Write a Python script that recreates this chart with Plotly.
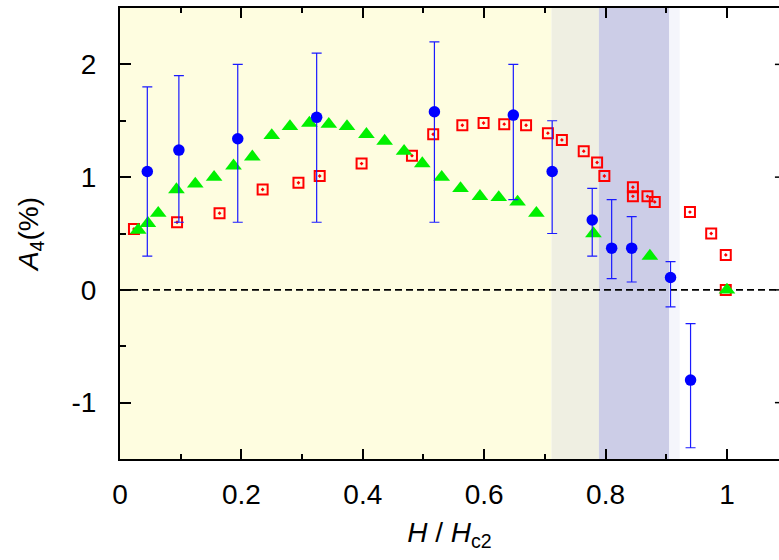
import plotly.graph_objects as go

# ---- data ----
# blue circles with error bars
circ_x = [0.045, 0.097, 0.194, 0.324, 0.518, 0.648, 0.712, 0.778, 0.810, 0.843, 0.907, 0.940]
circ_y = [1.05, 1.24, 1.34, 1.53, 1.58, 1.55, 1.05, 0.62, 0.37, 0.37, 0.11, -0.80]
circ_hi = [1.80, 1.90, 2.00, 2.10, 2.20, 2.00, 1.50, 0.90, 0.80, 0.65, 0.25, -0.30]
circ_lo = [0.30, 0.60, 0.60, 0.60, 0.60, 0.80, 0.50, 0.30, 0.10, 0.07, -0.15, -1.40]

# green triangles
tri_x = [0.030, 0.046, 0.063, 0.093, 0.124, 0.155, 0.187, 0.218, 0.250, 0.280, 0.312,
         0.344, 0.374, 0.406, 0.436, 0.468, 0.498, 0.530, 0.561, 0.593, 0.624, 0.655,
         0.686, 0.780, 0.873, 1.000]
tri_y = [0.53, 0.59, 0.68, 0.89, 0.94, 1.00, 1.10, 1.18, 1.37, 1.45, 1.48,
         1.47, 1.45, 1.38, 1.32, 1.23, 1.12, 1.00, 0.90, 0.83, 0.82, 0.78,
         0.68, 0.50, 0.30, 0.00]

# red open squares
sq_x = [0.023, 0.094, 0.164, 0.235, 0.294, 0.329, 0.398, 0.481, 0.516, 0.564, 0.599,
        0.633, 0.669, 0.705, 0.728, 0.764, 0.786, 0.798, 0.845, 0.845, 0.869, 0.881,
        0.939, 0.974, 0.998, 0.998]
sq_y = [0.54, 0.60, 0.68, 0.89, 0.95, 1.01, 1.12, 1.19, 1.38, 1.46, 1.48,
        1.47, 1.46, 1.39, 1.33, 1.23, 1.13, 1.01, 0.91, 0.83, 0.83, 0.78,
        0.69, 0.50, 0.31, 0.00]

# shaded field regions (x boundaries) and their colours
region_edges = [0.0, 0.711, 0.789, 0.905, 0.922]
region_colors = ["#FEFDE0", "#EFEFE2", "#CCCDE7", "#F5F6FC"]

x_ticks = [0, 0.2, 0.4, 0.6, 0.8, 1]
x_ticklabels = ["0", "0.2", "0.4", "0.6", "0.8", "1"]
y_ticks = [-1, 0, 1, 2]
y_ticklabels = ["-1", "0", "1", "2"]

X_RANGE = [0, 1.0857]
X_FULL = 1.1
Y_RANGE = [-1.5, 2.5]

FONT = "Liberation Sans, Arial, Helvetica, sans-serif"

fig = go.Figure()

# zero dashed line
fig.add_trace(go.Scatter(
    x=[0, X_FULL], y=[0, 0], mode="lines",
    line=dict(color="black", width=1.6, dash="7px,4px"),
    hoverinfo="skip", showlegend=False))

fig.add_trace(go.Scatter(
    x=sq_x, y=sq_y, mode="markers",
    marker=dict(symbol="square-open-dot", size=10, color="#FF0000",
                line=dict(color="#FF0000", width=2)),
    showlegend=False))

fig.add_trace(go.Scatter(
    x=tri_x, y=tri_y, mode="markers",
    marker=dict(symbol="triangle-up", size=14.5, color="#00F000"),
    showlegend=False))

err_plus = [h - v for h, v in zip(circ_hi, circ_y)]
err_minus = [v - l for v, l in zip(circ_y, circ_lo)]
fig.add_trace(go.Scatter(
    x=circ_x, y=circ_y, mode="markers",
    marker=dict(symbol="circle", size=11.5, color="#0000FF"),
    error_y=dict(type="data", symmetric=False, array=err_plus, arrayminus=err_minus,
                 color="#1a1aFF", thickness=1.2, width=5),
    showlegend=False))

shapes = []
for i, col in enumerate(region_colors):
    shapes.append(dict(type="rect", xref="x", yref="paper",
                       x0=region_edges[i], x1=region_edges[i + 1], y0=0, y1=1,
                       fillcolor=col, line=dict(width=0), layer="below"))
# right-hand axis ticks (axis itself lies just outside the picture)
for yt in y_ticks:
    shapes.append(dict(type="line", xref="x", yref="y",
                       x0=X_FULL - 0.021, x1=X_FULL, y0=yt, y1=yt,
                       line=dict(color="black", width=1.5), layer="above"))

fig.update_layout(
    width=779, height=560,
    margin=dict(l=120, r=0, t=8, b=101),
    paper_bgcolor="white", plot_bgcolor="white",
    font=dict(family=FONT, size=28, color="black"),
    shapes=shapes,
    xaxis=dict(
        range=X_RANGE, showgrid=False, zeroline=False,
        showline=True, linecolor="black", linewidth=2, mirror="ticks",
        ticks="inside", ticklen=10, tickwidth=1.5, tickcolor="black",
        tickvals=x_ticks, ticktext=x_ticklabels,
        minor=dict(dtick=0.1, ticks="inside", ticklen=5, tickwidth=1.5, tickcolor="black"),
        ticklabelstandoff=9,
        title=dict(text="<i>H</i> / <i>H</i><sub>c2</sub>", standoff=14,
                   font=dict(size=28)),
    ),
    yaxis=dict(
        range=Y_RANGE, showgrid=False, zeroline=False,
        showline=True, linecolor="black", linewidth=2, mirror=False,
        ticks="inside", ticklen=11, tickwidth=1.5, tickcolor="black",
        tickvals=y_ticks, ticktext=y_ticklabels,
        minor=dict(dtick=0.5, ticks="inside", ticklen=6, tickwidth=1.5, tickcolor="black"),
        ticklabelstandoff=16,
        title=dict(text="<i>A</i><sub>4</sub>(%)", standoff=25, font=dict(size=28)),
    ),
)

fig.write_html("out.html")
